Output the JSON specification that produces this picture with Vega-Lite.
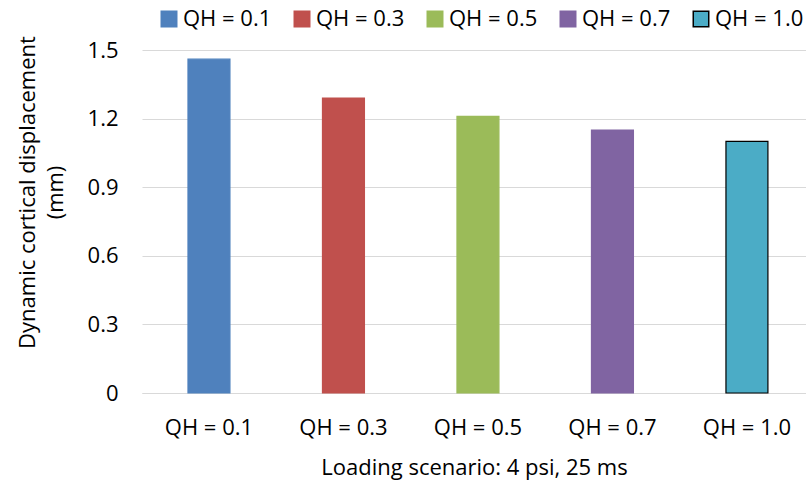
{
  "$schema": "https://vega.github.io/schema/vega-lite/v6.json",
  "autosize": {"type": "none"},
  "padding": {"left": 142, "top": 50, "right": 0, "bottom": 89},
  "width": 664,
  "height": 343,
  "config": {
    "font": "Open Sans",
    "view": {"stroke": null},
    "axis": {"labelFont": "Open Sans", "titleFont": "Open Sans", "labelColor": "#000000", "titleColor": "#000000", "titleFontWeight": "normal"}
  },
  "data": {
    "values": [
      {"scenario": "QH = 0.1", "value": 1.46},
      {"scenario": "QH = 0.3", "value": 1.29},
      {"scenario": "QH = 0.5", "value": 1.21},
      {"scenario": "QH = 0.7", "value": 1.15},
      {"scenario": "QH = 1.0", "value": 1.10}
    ]
  },
  "mark": {"type": "bar", "strokeWidth": 1.2},
  "encoding": {
    "x": {
      "field": "scenario",
      "type": "nominal",
      "sort": null,
      "scale": {"paddingInner": 0.688, "paddingOuter": 0.3125, "align": 0.547},
      "axis": {
        "title": "Loading scenario: 4 psi, 25 ms",
        "labelAngle": 0,
        "labelFontSize": 22,
        "titleFontSize": 22,
        "labelPadding": 24,
        "titlePadding": 19,
        "ticks": false,
        "domainColor": "#d9d9d9",
        "domainWidth": 1
      }
    },
    "y": {
      "field": "value",
      "type": "quantitative",
      "scale": {"domain": [0, 1.5], "nice": false},
      "axis": {
        "title": ["Dynamic cortical displacement", "(mm)"],
        "values": [0, 0.3, 0.6, 0.9, 1.2, 1.5],
        "format": "~g",
        "labelFontSize": 22,
        "titleFontSize": 22,
        "titleLineHeight": 28,
        "titleY": 142,
        "labelPadding": 24,
        "titlePadding": 20,
        "ticks": false,
        "domain": false,
        "gridColor": "#d9d9d9",
        "gridWidth": 1
      }
    },
    "fill": {
      "field": "scenario",
      "type": "nominal",
      "sort": null,
      "scale": {"range": ["#4F81BD", "#C0504D", "#9BBB59", "#8064A2", "#4BACC6"]},
      "legend": {
        "title": null,
        "orient": "none",
        "direction": "horizontal",
        "legendX": 16,
        "legendY": -42,
        "symbolType": "square",
        "symbolSize": 240,
        "labelFontSize": 22,
        "labelFont": "Open Sans",
        "labelColor": "#000000",
        "labelLimit": 300,
        "columnPadding": 19,
        "symbolOffset": 0,
        "labelOffset": 3
      }
    },
    "stroke": {
      "field": "scenario",
      "type": "nominal",
      "sort": null,
      "scale": {"range": ["#4F81BD", "#C0504D", "#9BBB59", "#8064A2", "#000000"]},
      "legend": null
    }
  }
}
